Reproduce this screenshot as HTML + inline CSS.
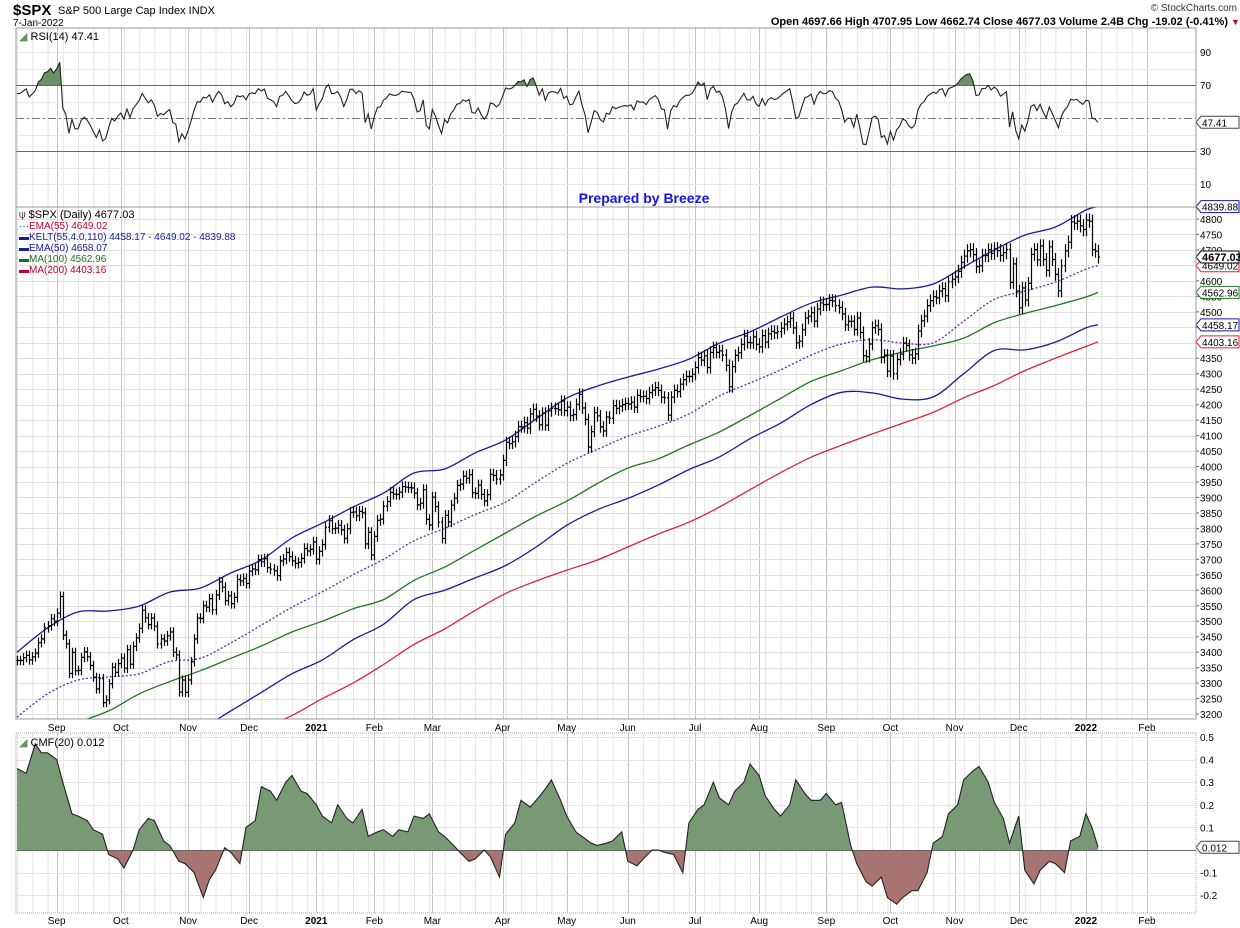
<!DOCTYPE html>
<html><head><meta charset="utf-8"><style>
html,body{margin:0;padding:0;background:#fff;}
svg{display:block;font-family:"Liberation Sans",sans-serif;}
</style></head><body>
<svg id="chart" width="1240" height="928" viewBox="0 0 1240 928" xmlns="http://www.w3.org/2000/svg">
<defs>
<clipPath id="clipPrice"><rect x="16" y="207" width="1180" height="512"/></clipPath>
<clipPath id="clipRsiHigh"><rect x="16" y="28" width="1180" height="57"/></clipPath>
<clipPath id="clipCmfPos"><rect x="16" y="733" width="1180" height="117"/></clipPath>
<clipPath id="clipCmfNeg"><rect x="16" y="850" width="1180" height="63"/></clipPath>
</defs>
<g id="grid"></g>
<g id="bands" clip-path="url(#clipPrice)"></g>
<g id="bars" clip-path="url(#clipPrice)"></g>
<g id="rsi"></g>
<g id="cmf"></g>
<g id="axes"></g>
<g id="frames">
<rect x="16" y="28" width="1180" height="179" fill="none" stroke="#999"/>
<rect x="16" y="207" width="1180" height="512" fill="none" stroke="#999"/>
<rect x="16" y="733" width="1180" height="180" fill="none" stroke="#aaa" stroke-dasharray="1,1"/>
</g>
<g>
<text x="13" y="15" font-size="15" font-weight="bold">$SPX</text>
<text x="58" y="14" font-size="11">S&amp;P 500 Large Cap Index  INDX</text>
<text x="13" y="26" font-size="10">7-Jan-2022</text>
<text x="1237" y="11" font-size="10" text-anchor="end" fill="#333">© StockCharts.com</text>
<text x="1228" y="25" font-size="11" text-anchor="end" font-weight="bold">Open 4697.66  High 4707.95  Low 4662.74  Close 4677.03  Volume 2.4B  Chg -19.02 (-0.41%)</text>
<text x="1231" y="25" font-size="9" fill="#c00030">▼</text>
<text x="19" y="40" font-size="11"><tspan fill="#6b8f67">◢</tspan> RSI(14) 47.41</text>
<text x="644" y="203" font-size="14" font-weight="bold" fill="#1515e0" text-anchor="middle">Prepared by Breeze</text>
<g font-size="10">
<text x="19" y="218" font-size="11">⍦ $SPX (Daily) 4677.03</text>
<text x="19" y="229" fill="#c00030"><tspan fill="#1a1a9c">···</tspan>EMA(55) 4649.02</text>
<text x="19" y="240" fill="#1a1a9c">▬KELT(55,4.0,110) 4458.17 - 4649.02 - 4839.88</text>
<text x="19" y="251" fill="#1a1a9c">▬EMA(50) 4658.07</text>
<text x="19" y="262" fill="#1e6e1e">▬MA(100) 4562.96</text>
<text x="19" y="273" fill="#c00030">▬MA(200) 4403.16</text>
</g>
<text x="19" y="746" font-size="11"><tspan fill="#6b8f67">◢</tspan> CMF(20) 0.012</text>
</g>
</svg>
<script>
// ---- data ----
const closes = [3373,3373,3382,3390,3375,3385,3397,3431,3443,3479,3485,3508,3500,
3526,3580,3455,3427,3331,3399,3340,3341,3383,3401,3385,3357,3319,3281,3315,3237,3246,3298,3351,3335,3363,
3381,3348,3408,3361,3419,3446,3477,3535,3511,3489,3510,3484,3427,3443,3436,3453,3465,3400,3391,3271,3310,3270,
3310,3369,3443,3510,3509,3550,3545,3573,3537,3585,3627,3610,3567,3582,3557,3577,3635,3630,3638,3622,
3662,3669,3666,3699,3692,3702,3673,3668,3663,3647,3695,3701,3722,3709,3695,3687,3690,3703,3735,3727,3732,3756,
3700,3726,3748,3804,3825,3799,3801,3810,3795,3768,3799,3852,3853,3841,3855,3850,3750,3787,3714,
3774,3826,3830,3872,3887,3916,3911,3910,3917,3935,3933,3932,3931,3914,3876,3881,3925,3829,3811,
3901,3870,3820,3768,3842,3821,3875,3898,3939,3943,3969,3962,3974,3915,3913,3940,3910,3889,3909,3975,3971,3959,3973,
4020,4078,4074,4080,4097,4129,4128,4142,4124,4170,4185,4163,4135,4173,4134,4180,4188,4187,4183,4211,4181,
4192,4165,4168,4201,4233,4189,4152,4063,4113,4174,4164,4128,4115,4160,4156,4197,4188,4195,4200,4204,
4202,4208,4192,4230,4226,4227,4220,4239,4247,4255,4246,4224,4222,4166,4224,4246,4242,4266,4281,4291,4291,4298,
4320,4352,4344,4358,4320,4369,4384,4369,4374,4360,4327,4258,4323,4359,4368,4395,4422,4401,4400,4419,4395,
4387,4423,4402,4429,4437,4432,4436,4447,4460,4468,4479,4448,4400,4405,4442,4480,4486,4497,4470,4509,4529,4523,
4524,4537,4535,4520,4514,4493,4458,4469,4469,4443,4480,4433,4358,4355,4396,4449,4455,4443,4353,4360,4308,
4357,4300,4346,4363,4399,4391,4361,4350,4364,4438,4471,4486,4520,4536,4549,4545,4567,4575,4552,4597,4605,
4613,4631,4660,4680,4697,4701,4685,4646,4649,4683,4682,4700,4689,4704,4698,4683,4691,4701,4595,4655,4567,
4513,4577,4538,4592,4686,4701,4668,4713,4669,4634,4710,4669,4621,4568,4649,4697,4725,4791,4786,4793,4778,4766,
4796,4793,4701,4696,4677];

const maIdx = [0,10,20,30,40,50,60,70,80,90,100,110,120,130,140,150,160,170,180,190,200,210,220,230,240,250,260,270,280,290,300,310,320,330,340,350,354];
const keltUpper = [3400,3478,3530,3533,3549,3594,3607,3656,3698,3769,3817,3869,3914,3979,3992,4044,4086,4154,4221,4260,4289,4315,4347,4399,4435,4483,4528,4554,4580,4574,4590,4645,4700,4748,4774,4829,4840];
const ema55 = [3190,3265,3310,3320,3330,3370,3380,3430,3487,3545,3595,3650,3700,3760,3800,3845,3885,3950,4010,4055,4098,4130,4170,4228,4270,4312,4360,4396,4410,4399,4400,4470,4540,4567,4596,4638,4649];
const keltLower = [2980,3050,3090,3105,3110,3145,3155,3210,3270,3330,3375,3440,3490,3570,3600,3640,3680,3740,3810,3860,3897,3940,3990,4031,4090,4140,4200,4240,4238,4218,4225,4300,4375,4377,4402,4448,4458];
const ma100 = [3120,3150,3175,3210,3265,3305,3340,3380,3420,3465,3500,3540,3570,3632,3675,3730,3785,3840,3888,3945,3995,4025,4070,4112,4165,4220,4275,4310,4345,4370,4390,4415,4465,4495,4520,4548,4563];
const ma200 = [2900,2930,2960,2990,3020,3050,3080,3115,3155,3195,3250,3300,3360,3425,3475,3535,3590,3630,3665,3698,3740,3782,3820,3869,3925,3980,4030,4069,4105,4140,4175,4222,4262,4310,4350,4388,4403];

const cmfIdx = [0,3,6,8,10,13,15,18,20,23,25,28,30,33,35,38,40,43,45,48,50,53,55,58,61,63,65,68,70,73,75,78,80,83,85,88,90,93,95,98,100,103,105,108,110,113,115,118,120,123,125,128,130,133,135,138,140,143,145,148,150,153,155,158,160,163,165,168,170,173,175,178,180,183,185,188,190,193,195,198,200,203,205,208,210,212,215,218,220,223,225,228,230,233,235,238,240,243,245,248,250,253,255,258,260,263,265,268,270,273,275,278,280,283,285,288,290,293,295,298,300,303,305,308,310,313,315,318,320,323,325,328,330,333,335,338,340,343,345,348,350,352,354];
const cmfVals = [0.36,0.34,0.47,0.43,0.43,0.40,0.30,0.16,0.15,0.13,0.09,0.07,-0.02,-0.04,-0.08,0.00,0.09,0.14,0.13,0.04,0.02,-0.05,-0.06,-0.10,-0.21,-0.13,-0.09,0.01,-0.01,-0.06,0.10,0.13,0.28,0.26,0.22,0.30,0.33,0.26,0.25,0.20,0.15,0.12,0.20,0.14,0.12,0.18,0.06,0.08,0.09,0.06,0.09,0.08,0.15,0.14,0.16,0.08,0.06,0.02,-0.01,-0.05,-0.04,0.00,-0.03,-0.12,0.07,0.12,0.22,0.19,0.22,0.27,0.31,0.22,0.15,0.08,0.06,0.03,0.02,0.03,0.04,0.08,-0.05,-0.07,-0.04,0.00,0.00,-0.01,-0.02,-0.10,0.12,0.18,0.20,0.30,0.23,0.20,0.26,0.30,0.38,0.33,0.24,0.18,0.15,0.20,0.31,0.25,0.22,0.22,0.25,0.20,0.21,0.02,-0.06,-0.14,-0.16,-0.12,-0.21,-0.24,-0.21,-0.18,-0.18,-0.10,0.03,0.06,0.16,0.20,0.31,0.35,0.37,0.30,0.21,0.14,0.03,0.15,-0.09,-0.15,-0.09,-0.05,-0.06,-0.10,0.04,0.06,0.16,0.10,0.012];

const monthLabels = ["Sep","Oct","Nov","Dec","2021","Feb","Mar","Apr","May","Jun","Jul","Aug","Sep","Oct","Nov","Dec","2022","Feb"];
const monthIdx = [13,34,56,76,98,117,136,159,180,200,222,243,265,286,307,328,350,370];
const priceTicks = [3200,3250,3300,3350,3400,3450,3500,3550,3600,3650,3700,3750,3800,3850,3900,3950,4000,4050,4100,4150,4200,4250,4300,4350,4400,4450,4500,4550,4600,4650,4700,4750,4800];
const rsiTicks = [10,30,50,70,90];
const cmfTicks = [-0.2,-0.1,0,0.1,0.2,0.3,0.4,0.5];

// ---- scales ----
const NS = "http://www.w3.org/2000/svg";
const X0 = 17, DX = 3.054;
const xS = i => X0 + i * DX;
const yP = p => 219 + (4800 - p) / 50 * 15.47;
const yR = v => 118 - (v - 50) * 1.65;
const yC = v => 850 - v * 226;
function mk(tag, attrs, parent){ const e=document.createElementNS(NS,tag); for(const k in attrs) e.setAttribute(k,attrs[k]); parent.appendChild(e); return e; }
function smooth(pts){
  let d = 'M'+pts[0][0].toFixed(1)+','+pts[0][1].toFixed(1);
  for (let k=0;k<pts.length-1;k++){
    const p0=pts[Math.max(k-1,0)],p1=pts[k],p2=pts[k+1],p3=pts[Math.min(k+2,pts.length-1)];
    const c1=[p1[0]+(p2[0]-p0[0])/6,p1[1]+(p2[1]-p0[1])/6], c2=[p2[0]-(p3[0]-p1[0])/6,p2[1]-(p3[1]-p1[1])/6];
    d += `C${c1[0].toFixed(1)},${c1[1].toFixed(1)} ${c2[0].toFixed(1)},${c2[1].toFixed(1)} ${p2[0].toFixed(1)},${p2[1].toFixed(1)}`;
  }
  return d;
}

// ---- grid ----
const grid = document.getElementById('grid');
const panels = [[28,207],[207,719],[733,913]];
for (let i = 0; i < 375; i += 5) {
  for (const [a,b] of panels) mk('line',{x1:xS(i)+0.5,x2:xS(i)+0.5,y1:a,y2:b,stroke:'#e4e4e4'},grid);
}
monthIdx.forEach(i => { for (const [a,b] of panels) mk('line',{x1:Math.round(xS(i))+0.5,x2:Math.round(xS(i))+0.5,y1:a,y2:b,stroke:'#c4c4c4'},grid); });
priceTicks.forEach(p => mk('line',{x1:16,x2:1196,y1:Math.round(yP(p))+0.5,y2:Math.round(yP(p))+0.5,stroke:'#e0e0e0'},grid));
[10,20,30,40,50,60,70,80,90].forEach(v => mk('line',{x1:16,x2:1196,y1:Math.round(yR(v))+0.5,y2:Math.round(yR(v))+0.5,stroke:'#e8e8e8'},grid));
cmfTicks.forEach(v => mk('line',{x1:16,x2:1196,y1:Math.round(yC(v))+0.5,y2:Math.round(yC(v))+0.5,stroke:'#e4e4e4'},grid));

// ---- moving averages ----
const bands = document.getElementById('bands');
function line(arr, color, name, dash){
  const d = smooth(arr.map((v,k)=>[xS(maIdx[k]), yP(v)]));
  const p = mk('path',{d:d,fill:'none',stroke:color,'stroke-width':1.3},bands);
  if (dash) p.setAttribute('stroke-dasharray',dash);
  
  
}
line(ma200,'#e0203c','ma200-line');
line(ma100,'#1e7a1e','ma100-line');
line(keltLower,'#1a1a9c','keltner-lower-line');
line(keltUpper,'#1a1a9c','keltner-upper-line');
line(ema55,'#5a2ca0','ema55-line','2,2');

// ---- price bars ----
const bars = document.getElementById('bars');
let bd = '';
closes.forEach((c,i) => {
  const o = i ? closes[i-1] : c;
  const hi = Math.max(o,c) + c*0.0045, lo = Math.min(o,c) - c*0.0045;
  const x = Math.round(xS(i)) + 0.5;
  bd += `M${x},${yP(hi).toFixed(1)}V${yP(lo).toFixed(1)}M${x-1.5},${yP(o).toFixed(1)}H${x}M${x},${yP(c).toFixed(1)}H${x+1.5}`;
});
const bp = mk('path',{d:bd,fill:'none',stroke:'#000','stroke-width':1.2},bars);



// ---- RSI(14) ----
const rsiG = document.getElementById('rsi');
let ag = 12, al = 6.5; const rsi = [];
for (let i = 0; i < closes.length; i++) {
  const ch = i ? closes[i] - closes[i-1] : 0;
  ag = (ag*13 + Math.max(ch,0))/14; al = (al*13 + Math.max(-ch,0))/14;
  rsi.push(100 - 100/(1 + ag/al));
}
const rd = rsi.map((v,i)=>(i?'L':'M')+xS(i).toFixed(1)+','+yR(v).toFixed(1)).join('');
const rf = mk('path',{d:rd+`L${xS(rsi.length-1)},${yR(70)}L${xS(0)},${yR(70)}Z`,fill:'#6b8f67','clip-path':'url(#clipRsiHigh)'},rsiG);


[70,30].forEach(v => mk('line',{x1:16,x2:1196,y1:Math.round(yR(v))+0.5,y2:Math.round(yR(v))+0.5,stroke:'#666'},rsiG));
mk('line',{x1:16,x2:1196,y1:Math.round(yR(50))+0.5,y2:Math.round(yR(50))+0.5,stroke:'#777','stroke-dasharray':'8,3,2,3'},rsiG);
const rl = mk('path',{d:rd,fill:'none',stroke:'#222','stroke-width':1.1},rsiG);



// ---- CMF(20) ----
const cmfG = document.getElementById('cmf');
const cd = cmfVals.map((v,k)=>(k?'L':'M')+xS(cmfIdx[k]).toFixed(1)+','+yC(v).toFixed(1)).join('');
const close0 = `L${xS(cmfIdx[cmfIdx.length-1])},${yC(0)}L${xS(0)},${yC(0)}Z`;
const cp = mk('path',{d:cd+close0,fill:'#779a75','clip-path':'url(#clipCmfPos)'},cmfG);


const cn = mk('path',{d:cd+close0,fill:'#a87472','clip-path':'url(#clipCmfNeg)'},cmfG);


mk('line',{x1:16,x2:1196,y1:850.5,y2:850.5,stroke:'#666'},cmfG);
const cl = mk('path',{d:cd,fill:'none',stroke:'#222','stroke-width':1.1},cmfG);



// ---- axes ----
const ax = document.getElementById('axes');
function txt(x,y,s,attrs,name){ const t=mk('text',Object.assign({x:x,y:y,'font-size':10},attrs||{}),ax); t.textContent=s;
    return t; }
priceTicks.forEach(p => { mk('line',{x1:1196,x2:1199,y1:yP(p),y2:yP(p),stroke:'#666'},ax); txt(1200,yP(p)+4,String(p),{},'price-tick-label'); });
rsiTicks.forEach(v => { if (v!==50) txt(1200,yR(v)+4,String(v),{},'rsi-tick-label'); });
cmfTicks.forEach(v => { if (v!==0) txt(1200,yC(v)+4,String(v),{},'cmf-tick-label'); });
monthLabels.forEach((m,k) => {
  const bold = /^20/.test(m) ? {'font-weight':'bold','text-anchor':'middle'} : {'text-anchor':'middle'};
  txt(xS(monthIdx[k]),731,m,bold,'date-tick-label');
  txt(xS(monthIdx[k]),924,m,bold,'cmf-date-tick-label');
});
function tag(y,s,color,bold,name){
  const g = mk('g',{},ax);
  
  
  mk('path',{d:`M1196,${y}L1201,${y-6}H1239V${y+6}H1201Z`,fill:'#fff',stroke:color},g);
  const t = mk('text',{x:1202,y:y+4,'font-size':bold?11:10,'font-weight':bold?'bold':'normal',fill:'#000'},g);
  t.textContent = s;
}
tag(yP(keltLower[keltLower.length-1]),'4458.17','#1a1a9c',false,'kelt-lower-tag');
tag(yP(ma200[ma200.length-1]),'4403.16','#e0203c',false,'ma200-tag');
tag(yP(ma100[ma100.length-1]),'4562.96','#1e7a1e',false,'ma100-tag');
tag(yP(ema55[ema55.length-1]),'4649.02','#e0203c',false,'ema55-tag');
tag(yP(keltUpper[keltUpper.length-1]),'4839.88','#1a1a9c',false,'kelt-upper-tag');
tag(yP(closes[closes.length-1]),'4677.03','#000',true,'last-price-tag');
tag(yR(rsi[rsi.length-1]),'47.41','#444',false,'rsi-value-tag');
tag(yC(cmfVals[cmfVals.length-1]),'0.012','#444',false,'cmf-value-tag');
</script>
</body></html>
